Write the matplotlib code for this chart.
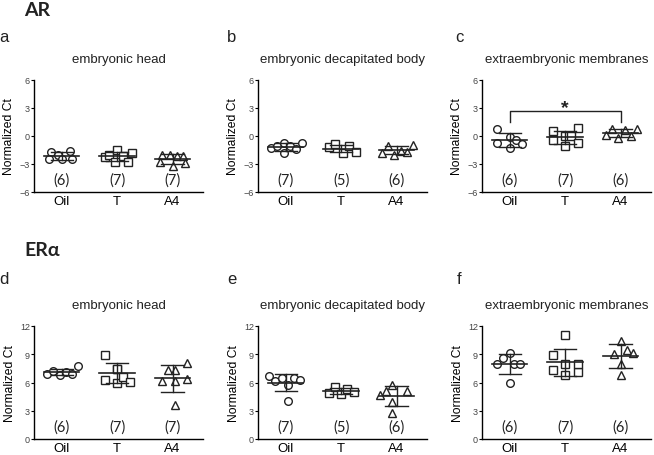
import matplotlib.pyplot as plt
import numpy as np

groups = ["Oil", "T", "A4"]
markers = ["o", "s", "^"]

# AR panels (normalized Ct)
ar_head = [[-1.7, -2.0, -1.6, -2.5, -2.5, -2.5],
           [-2.3, -2.0, -1.5, -2.1, -2.75, -2.75, -1.8],
           [-2.0, -2.0, -2.1, -2.1, -2.8, -3.2, -2.9]]
ar_body = [[-1.3, -1.1, -0.7, -1.1, -1.4, -0.75, -1.85],
           [-1.2, -0.9, -1.8, -1.1, -1.75],
           [-1.85, -1.05, -2.0, -1.6, -1.7, -1.0]]
ar_memb = [[0.75, -0.07, -0.75, -1.3, -0.4, -0.85],
           [0.57, -0.4, -0.03, -1.1, 0.03, 0.82, -0.75],
           [0.1, 0.75, -0.25, 0.6, 0.05, 0.75]]

# ERalpha panels
er_head = [[6.92, 7.24, 6.82, 7.1, 6.92, 7.7],
           [8.95, 7.45, 7.4, 6.25, 5.96, 6.6, 6.1],
           [7.28, 7.28, 8.1, 6.14, 6.14, 6.4, 3.66]]
er_body = [[6.67, 6.14, 6.5, 5.77, 6.5, 6.3, 4.06],
           [4.88, 5.48, 4.77, 5.3, 4.95],
           [4.7, 5.06, 5.7, 5.06, 3.9, 2.74]]
er_memb = [[7.98, 8.6, 9.14, 7.98, 7.98, 6.0],
           [11.0, 8.95, 7.37, 7.98, 6.84, 7.09, 7.98],
           [10.4, 9.04, 9.4, 9.15, 7.98, 6.84]]

# horizontal jitter offsets (layout only)
offsets = {
    "ar_head": [[-0.25, -0.1, 0.2, -0.3, 0.0, 0.25],
                [-0.3, -0.2, 0.0, 0.15, -0.05, 0.25, 0.35],
                [-0.25, -0.05, 0.1, 0.25, -0.3, 0.0, 0.3]],
    "ar_body": [[-0.35, -0.2, -0.05, 0.1, 0.25, 0.4, -0.05],
                [-0.3, -0.15, 0.05, 0.2, 0.35],
                [-0.35, -0.2, -0.05, 0.1, 0.25, 0.4]],
    "ar_memb": [[-0.3, 0.0, -0.3, 0.0, 0.15, 0.3],
                [-0.3, -0.3, 0.0, 0.0, 0.15, 0.3, 0.3],
                [-0.35, -0.2, -0.05, 0.1, 0.25, 0.4]],
    "er_head": [[-0.35, -0.2, -0.05, 0.1, 0.25, 0.4],
                [-0.3, 0.0, 0.0, -0.3, 0.0, 0.15, 0.3],
                [-0.1, 0.05, 0.35, -0.25, 0.05, 0.35, 0.05]],
    "er_body": [[-0.4, -0.25, -0.1, 0.05, 0.2, 0.35, 0.05],
                [-0.3, -0.15, 0.0, 0.15, 0.3],
                [-0.4, -0.25, -0.1, 0.25, -0.1, -0.1]],
    "er_memb": [[-0.3, -0.15, 0.0, 0.1, 0.25, 0.0],
                [0.0, -0.3, -0.3, 0.0, 0.0, 0.3, 0.3],
                [0.0, -0.15, 0.15, 0.3, 0.0, 0.0]],
}
SPREAD = 0.75

titles = ["embryonic head", "embryonic decapitated body", "extraembryonic membranes"]
ar_letters = ["a", "b", "c"]
er_letters = ["d", "e", "f"]
ar_ticks = [-6, -3, 0, 3, 6]
er_ticks = [0, 3, 6, 9, 12]

plt.rcParams['font.family'] = ['Liberation Sans', 'DejaVu Sans']

fig = plt.figure(figsize=(6.54, 4.56), dpi=100)

lefts = [34 / 654, 258 / 654, 482 / 654]
w = 169 / 654


def draw_panel(ax, data, offs, ticks, title):
    for i, vals in enumerate(data):
        xs = [i + SPREAD * o for o in offs[i]]
        ax.plot(xs, vals, linestyle="none", marker=markers[i], markersize=5.5,
                markerfacecolor="white", markeredgecolor="#222222",
                markeredgewidth=1.0, zorder=3)
        m = np.mean(vals)
        sd = np.std(vals, ddof=1)
        ax.plot([i - 0.32, i + 0.32], [m, m], color="#222222", lw=1.2, zorder=4)
        ax.plot([i, i], [m - sd, m + sd], color="#222222", lw=1.0, zorder=4)
        ax.plot([i - 0.2, i + 0.2], [m + sd, m + sd], color="#222222", lw=1.0, zorder=4)
        ax.plot([i - 0.2, i + 0.2], [m - sd, m - sd], color="#222222", lw=1.0, zorder=4)
        ax.text(i, 0.11, "(%d)" % len(vals), transform=ax.get_xaxis_transform(),
                ha="center", va="center", fontsize=10.5, family=["Lato", "DejaVu Sans"],
                color="#222222")
    ax.set_xlim(-0.5, 2.55)
    ax.set_ylim(ticks[0], ticks[-1])
    ax.set_yticks(ticks)
    ax.set_xticks(range(3))
    ax.set_xticklabels(groups, fontsize=9.5)
    ax.tick_params(axis="y", labelsize=6.5, length=2, width=0.8, pad=1, labelcolor="#444444")
    ax.tick_params(axis="x", length=0, pad=2)
    ax.spines["top"].set_visible(False)
    ax.spines["right"].set_visible(False)
    ax.spines["left"].set_linewidth(1.0)
    ax.spines["bottom"].set_linewidth(1.0)
    ax.set_ylabel("Normalized Ct", fontsize=8.7, labelpad=3)
    ax.set_title(title, fontsize=9.5, pad=13, color="#222222")


ar_sets = [(ar_head, "ar_head"), (ar_body, "ar_body"), (ar_memb, "ar_memb")]
er_sets = [(er_head, "er_head"), (er_body, "er_body"), (er_memb, "er_memb")]

for k in range(3):
    ax = fig.add_axes([lefts[k], 1 - 193 / 456, w, 112 / 456])
    draw_panel(ax, ar_sets[k][0], offsets[ar_sets[k][1]], ar_ticks, titles[k])
    if k == 2:
        # significance bracket Oil vs A4
        ax.plot([0, 0, 2, 2], [1.5, 2.7, 2.7, 1.5], color="#222222", lw=1.0)
        ax.text(1, 3.0, "*", ha="center", va="center", fontsize=14,
                fontweight="bold", color="#222222")

for k in range(3):
    ax = fig.add_axes([lefts[k], 1 - 440 / 456, w, 113 / 456])
    draw_panel(ax, er_sets[k][0], offsets[er_sets[k][1]], er_ticks, titles[k])

# panel letters and section headers
letter_x = [4, 232, 459]
for k in range(3):
    fig.text(letter_x[k] / 654, 1 - 37 / 456, ar_letters[k], fontsize=12,
             ha="center", va="center", color="#222222")
    fig.text(letter_x[k] / 654, 1 - 280 / 456, er_letters[k], fontsize=12,
             ha="center", va="center", color="#222222")

fig.text(24 / 654, 1 - 10 / 456, "AR", fontsize=14, fontweight="bold",
         family=["Lato", "DejaVu Sans"], ha="left", va="center", color="#222222")
fig.text(24 / 654, 1 - 251 / 456, "ERα", fontsize=14, fontweight="bold",
         family=["Lato", "DejaVu Sans"], ha="left", va="center", color="#222222")

fig.savefig("out.png", dpi=100)
